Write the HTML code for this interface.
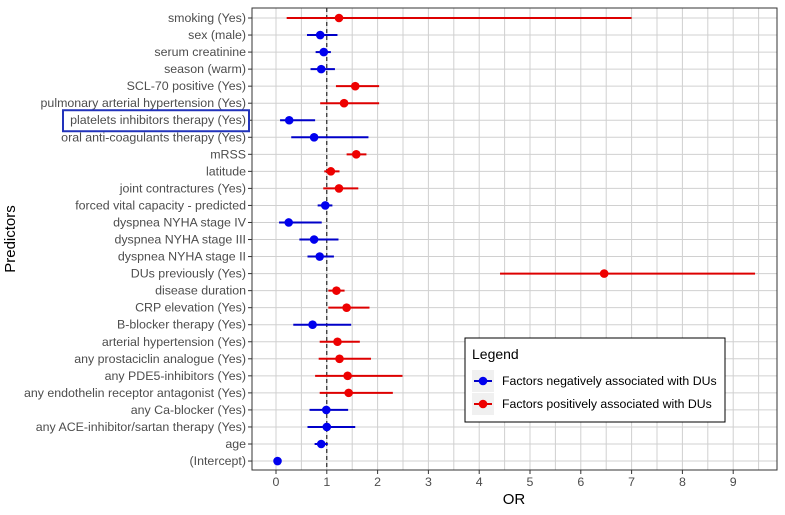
<!DOCTYPE html>
<html><head><meta charset="utf-8"><style>
body{margin:0;background:#fff;}
svg{display:block;font-family:"Liberation Sans",Arial,sans-serif;}
</style></head><body>
<svg id="chart" width="785" height="515"></svg>
<script>
const labels=["smoking (Yes)","sex (male)","serum creatinine","season (warm)","SCL-70 positive (Yes)","pulmonary arterial hypertension (Yes)","platelets inhibitors therapy (Yes)","oral anti-coagulants therapy (Yes)","mRSS","latitude","joint contractures (Yes)","forced vital capacity - predicted","dyspnea NYHA stage IV","dyspnea NYHA stage III","dyspnea NYHA stage II","DUs previously (Yes)","disease duration","CRP elevation (Yes)","B-blocker therapy (Yes)","arterial hypertension (Yes)","any prostaciclin analogue (Yes)","any PDE5-inhibitors (Yes)","any endothelin receptor antagonist (Yes)","any Ca-blocker (Yes)","any ACE-inhibitor/sartan therapy (Yes)","age","(Intercept)"];
const orValues=[1.24,0.87,0.94,0.89,1.56,1.34,0.26,0.75,1.58,1.08,1.24,0.97,0.25,0.75,0.86,6.46,1.19,1.39,0.72,1.21,1.25,1.41,1.43,0.99,1.00,0.89,0.03];
const ciLow=[0.21,0.61,0.78,0.68,1.18,0.87,0.08,0.30,1.39,0.95,0.93,0.82,0.06,0.46,0.62,4.41,1.03,1.03,0.34,0.86,0.84,0.77,0.86,0.66,0.62,0.76,0.02];
const ciHigh=[7.0,1.21,1.08,1.16,2.03,2.03,0.77,1.82,1.78,1.25,1.62,1.11,0.90,1.23,1.14,9.43,1.35,1.84,1.48,1.65,1.87,2.49,2.30,1.42,1.56,1.02,0.04];
const groups=["pos","neg","neg","neg","pos","pos","neg","neg","pos","pos","pos","neg","neg","neg","neg","pos","pos","pos","neg","pos","pos","pos","pos","neg","neg","neg","neg"];
const xTicks=[0,1,2,3,4,5,6,7,8,9];

const NS="http://www.w3.org/2000/svg";
const svg=document.getElementById('chart');
const L=252,R=777,T=8,B=470;
const x=v=>276+v*50.8;
const y=i=>18+i*17.04;
function mk(t,a,p){const e=document.createElementNS(NS,t);for(const k in a)e.setAttribute(k,a[k]);(p||svg).appendChild(e);return e;}
const col={neg:{line:"#0000c8",pt:"#0000ee"},pos:{line:"#dd0000",pt:"#ee0000"}};

const grid=mk('g',{});


for(let v=-0.5;v<=10;v+=0.5){const px=x(v);if(px<L||px>R)continue;mk('line',{x1:px,x2:px,y1:T,y2:B,stroke:"#d0d0d0","stroke-width":1},grid);}
labels.forEach((l,i)=>mk('line',{x1:L,x2:R,y1:y(i),y2:y(i),stroke:"#d0d0d0","stroke-width":1},grid));
const ref=mk('line',{x1:x(1),x2:x(1),y1:T,y2:B,stroke:"#000","stroke-dasharray":"4,3","stroke-width":1});


const frame=mk('rect',{x:L,y:T,width:R-L,height:B-T,fill:"none",stroke:"#333","stroke-width":1});



labels.forEach((l,i)=>{
  const g=groups[i];
  const ln=mk('line',{x1:x(ciLow[i]),x2:x(ciHigh[i]),y1:y(i),y2:y(i),stroke:col[g].line,"stroke-width":2});
  
  
  const c=mk('circle',{cx:x(orValues[i]),cy:y(i),r:4.3,fill:col[g].pt});
  
  
  const t=mk('text',{x:246,y:y(i)+4,"text-anchor":"end","font-size":12.4,fill:"#4d4d4d"});
  t.textContent=l;
  
  
  mk('line',{x1:248,x2:L,y1:y(i),y2:y(i),stroke:"#333"});
});
const hb=mk('rect',{x:63,y:y(6)-10,width:186,height:21,fill:"none",stroke:"#2233bb","stroke-width":2});


xTicks.forEach(v=>{
  mk('line',{x1:x(v),x2:x(v),y1:B,y2:B+4,stroke:"#333"});
  const t=mk('text',{x:x(v),y:B+16,"text-anchor":"middle","font-size":12.4,fill:"#4d4d4d"});
  t.textContent=v;
  
  
});
const xt=mk('text',{x:514,y:504,"text-anchor":"middle","font-size":15,fill:"#000"});
xt.textContent="OR";


const yt=mk('text',{x:15,y:239,"text-anchor":"middle","font-size":15,fill:"#000",transform:"rotate(-90 15 239)"});
yt.textContent="Predictors";



const lg=mk('g',{});


mk('rect',{x:465,y:338,width:260,height:84,fill:"#fff",stroke:"#000","stroke-width":1},lg);
const lt=mk('text',{x:472,y:359,"font-size":14,fill:"#000"},lg);lt.textContent="Legend";
[["neg","Factors negatively associated with DUs",381],["pos","Factors positively associated with DUs",404]].forEach(([g,txt,yy])=>{
  const e=mk('g',{},lg);
  
  
  mk('rect',{x:472,y:yy-11,width:22,height:22,fill:"#f0f0f0"},e);
  mk('line',{x1:474,x2:492,y1:yy,y2:yy,stroke:col[g].line,"stroke-width":2},e);
  mk('circle',{cx:483,cy:yy,r:4.3,fill:col[g].pt},e);
  const t=mk('text',{x:502,y:yy+4,"font-size":12.3,fill:"#000"},e);t.textContent=txt;
});
</script>
</body></html>
